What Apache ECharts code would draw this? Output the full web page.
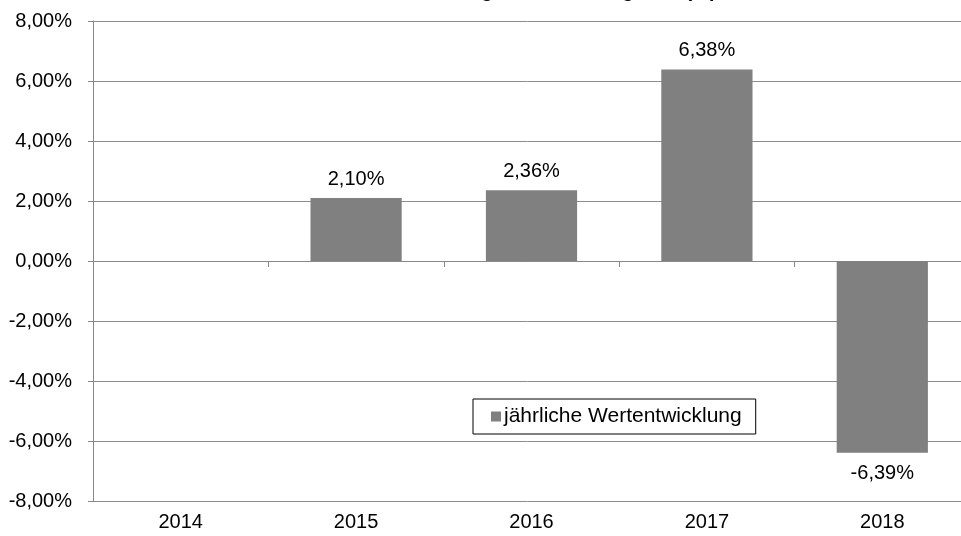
<!DOCTYPE html>
<html>
<head>
<meta charset="utf-8">
<script src="https://cdn.jsdelivr.net/npm/echarts@6/dist/echarts.min.js"></script>
<style>html,body{margin:0;padding:0;background:#fff}#c{width:961px;height:536px}</style>
</head>
<body>
<div id="c"></div>
<script>
var categories = ['2014', '2015', '2016', '2017', '2018'];
var values = [null, 2.10, 2.36, 6.38, -6.39];
var seriesName = 'jährliche Wertentwicklung';
var titleText = 'Wertentwicklung im Jahresvergleich (%)';
var yMin = -8, yMax = 8, yStep = 2;

function fmt(v) { return v.toFixed(2).replace('.', ',') + '%'; }

var chart = echarts.init(document.getElementById('c'), null, {renderer: 'canvas'});
var font = 'Liberation Sans, Arial, sans-serif';
chart.setOption({
  animation: false,
  title: {
    text: titleText, left: 520, textAlign: 'center', top: -24,
    textStyle: {fontFamily: font, fontSize: 20, fontWeight: 'bold', color: '#000'}
  },
  legend: {
    left: 473, top: 399,
    orient: 'horizontal',
    borderColor: '#000', borderWidth: 1, borderRadius: 0,
    padding: [7, 14, 7, 18],
    itemWidth: 10, itemHeight: 10, itemGap: 4,
    icon: 'rect',
    textStyle: {fontFamily: font, fontSize: 21, color: '#000', padding: [0, 0, 0, -2]},
    data: [seriesName]
  },
  grid: {left: 93, width: 877, top: 21, height: 480, containLabel: false, outerBoundsMode: 'none'},
  xAxis: [{
    type: 'category', data: categories, position: 'bottom',
    axisLine: {onZero: true, lineStyle: {color: '#888', width: 1}},
    axisTick: {show: true, length: 6, lineStyle: {color: '#888'}},
    axisLabel: {show: false}
  }, {
    type: 'category', data: categories, position: 'bottom',
    axisLine: {show: false, onZero: false}, axisTick: {show: false},
    axisLabel: {fontFamily: font, fontSize: 20, color: '#000', margin: 11}
  }],
  yAxis: {
    type: 'value', min: yMin, max: yMax, interval: yStep,
    axisLine: {show: true, lineStyle: {color: '#888'}},
    axisTick: {show: true, length: 5, lineStyle: {color: '#888'}},
    splitLine: {lineStyle: {color: '#8c8c8c', width: 1}},
    axisLabel: {fontFamily: font, fontSize: 20, color: '#000', margin: 21, formatter: fmt}
  },
  series: [{
    name: seriesName, type: 'bar', xAxisIndex: 0,
    barWidth: '52%',
    itemStyle: {color: '#808080'},
    data: values.map(function (v) {
      return {value: v, label: {position: v < 0 ? 'bottom' : 'top', distance: v < 0 ? 11 : 9}};
    }),
    label: {
      show: true, fontFamily: font, fontSize: 20, color: '#000',
      formatter: function (p) { return p.value == null ? '' : fmt(p.value); }
    }
  }]
});
</script>
</body>
</html>
